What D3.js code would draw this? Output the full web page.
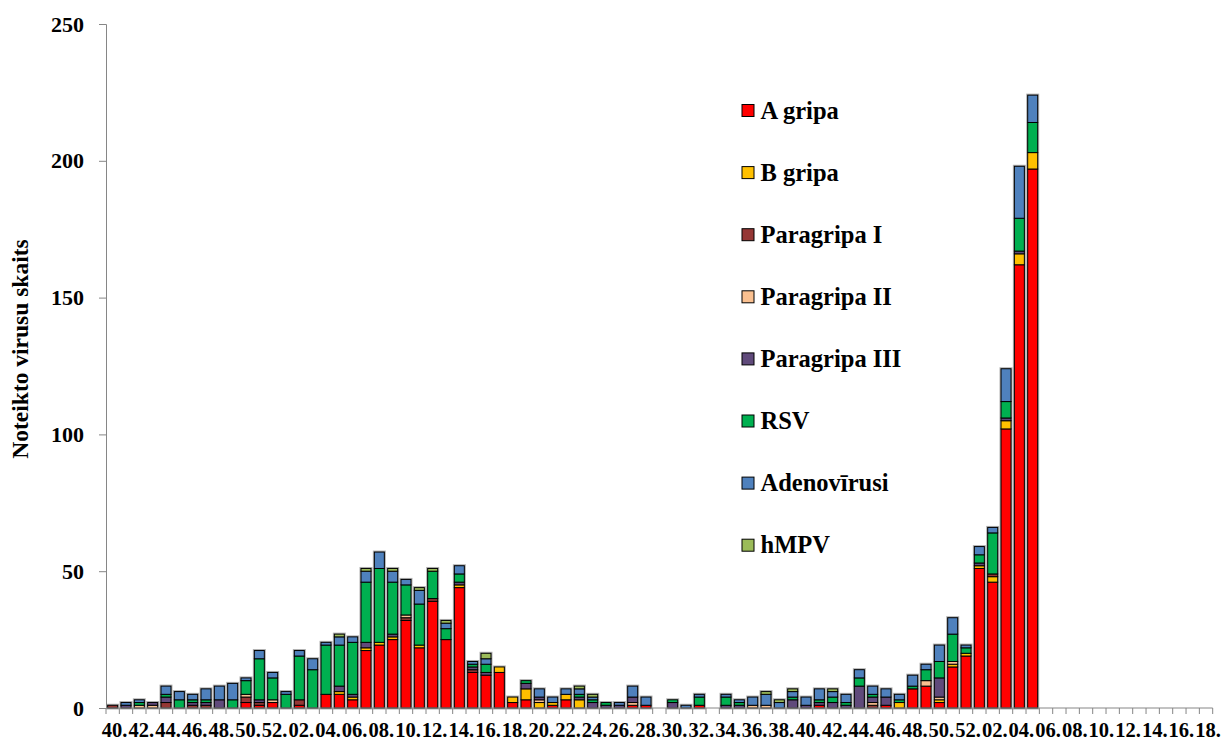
<html>
<head>
<meta charset="utf-8">
<title>Noteikto virusu skaits</title>
<script src="https://d3js.org/d3.v7.min.js"></script>
<style>
  body { margin: 0; background: #fff; }
  text { font-family: "Liberation Serif", "Times New Roman", serif; font-weight: bold; fill: #000; }
</style>
</head>
<body>
<script>
// nedelas (3 sezonas: 40-52, 1-52, 1-18)
const weeks = ["40","41","42","43","44","45","46","47","48","49","50","51","52",
  "01","02","03","04","05","06","07","08","09","10","11","12","13","14","15","16","17","18","19","20",
  "21","22","23","24","25","26","27","28","29","30","31","32","33","34","35","36","37","38","39","40",
  "41","42","43","44","45","46","47","48","49","50","51","52",
  "01","02","03","04","05","06","07","08","09","10","11","12","13","14","15","16","17","18"];

const seriesNames = ["A gripa", "B gripa", "Paragripa I", "Paragripa II", "Paragripa III", "RSV", "Adenovīrusi", "hMPV"];
const seriesColors = ["#ff0000", "#ffc000", "#953735", "#fac090", "#604a7b", "#00b050", "#4f81bd", "#9bbb59"];

const aGripa = [0,0,0,0,0,0,0,0,0,0,2,1,2,
  0,1,0,5,5,3,21,23,25,32,22,39,25,44,13,12,13,2,3,0,1,3,0,0,0,0,1,1,0,0,0,1,0,0,0,0,0,0,0,0,1,0,0,0,0,1,0,7,8,2,15,19,
  51,46,102,162,197,0,0,0,0,0,0,0,0,0,0,0,0,0];
const bGripa = [0,0,0,0,0,0,0,0,0,0,0,0,0,
  0,0,0,0,1,1,1,1,1,0,1,0,0,1,0,0,2,2,4,2,1,2,3,0,0,0,0,0,0,0,0,0,0,0,0,0,0,0,0,0,0,0,0,0,0,0,2,0,0,1,1,1,
  1,2,3,4,6,0,0,0,0,0,0,0,0,0,0,0,0,0];
const paraI = [1,0,0,0,2,0,1,1,0,0,2,1,0,
  0,2,0,0,0,0,0,0,0,1,0,1,0,0,1,0,0,0,0,0,0,0,0,0,0,0,0,0,0,0,0,0,0,0,0,0,0,0,0,0,0,0,0,0,1,0,0,0,0,0,0,0,
  0,1,0,0,0,0,0,0,0,0,0,0,0,0,0,0,0,0];
const paraII = [0,0,1,1,0,0,0,0,0,0,1,0,1,
  0,0,0,0,0,0,0,0,0,1,0,0,0,0,0,0,0,0,0,1,0,0,0,0,0,0,1,0,0,0,0,0,0,0,0,1,1,0,0,0,0,0,0,0,1,0,0,0,2,1,1,0,
  0,0,0,0,0,0,0,0,0,0,0,0,0,0,0,0,0,0];
const paraIII = [0,1,0,1,2,0,1,1,3,0,0,1,0,
  0,0,0,0,2,1,2,0,1,0,0,0,0,1,1,1,0,0,2,1,0,0,1,2,1,1,2,0,0,2,0,0,0,1,1,0,0,0,3,1,1,2,1,8,2,3,0,0,0,7,0,0,
  1,0,1,1,0,0,0,0,0,0,0,0,0,0,0,0,0,0];
const rsv = [0,0,1,0,1,3,1,1,0,3,5,15,8,
  5,16,14,18,15,19,22,27,19,11,15,10,4,3,1,3,0,0,1,0,0,0,1,1,1,0,0,0,0,1,0,3,0,3,1,0,0,0,1,0,1,2,1,3,1,0,1,1,4,6,10,2,
  3,15,6,12,11,0,0,0,0,0,0,0,0,0,0,0,0,0];
const adeno = [0,1,1,0,3,3,2,4,5,6,1,3,2,
  1,2,4,1,3,2,4,6,4,2,5,0,2,3,1,2,0,0,0,3,2,2,2,1,0,1,4,3,0,0,1,1,0,1,1,3,4,2,2,3,4,2,3,3,3,3,2,4,2,6,6,1,
  3,2,12,19,10,0,0,0,0,0,0,0,0,0,0,0,0,0];
const hmpv = [0,0,0,0,0,0,0,0,0,0,0,0,0,
  0,0,0,0,1,0,1,0,1,0,1,1,1,0,0,2,0,0,0,0,0,0,1,1,0,0,0,0,0,0,0,0,0,0,0,0,1,1,1,0,0,1,0,0,0,0,0,0,0,0,0,0,
  0,0,0,0,0,0,0,0,0,0,0,0,0,0];
const yTicks = [0, 50, 100, 150, 200, 250];

const seriesValues = [aGripa, bGripa, paraI, paraII, paraIII, rsv, adeno, hmpv];

// izmeri
const width = 1221, height = 740;
const plot = { left: 106, right: 1212.7, top: 24, bottom: 708 };

const svg = d3.select("body").append("svg")
  .attr("width", width)
  .attr("height", height);

// dati tabula prieks d3.stack
const rows = weeks.map((w, i) => {
  const r = { idx: i, week: w };
  seriesNames.forEach((s, k) => r[s] = seriesValues[k][i]);
  return r;
});

const x = d3.scaleBand()
  .domain(rows.map(d => d.idx))
  .range([plot.left, plot.right])
  .paddingInner(0.25)
  .paddingOuter(0.125);

const y = d3.scaleLinear()
  .domain([0, 250])
  .range([plot.bottom, plot.top]);

const color = d3.scaleOrdinal().domain(seriesNames).range(seriesColors);

const stacked = d3.stack().keys(seriesNames)(rows);
const totals = rows.map(d => d3.sum(seriesNames, s => d[s]));

// ena ap stabiem
svg.append("g")
  .selectAll("rect")
  .data(rows.filter((d, i) => totals[i] > 0))
  .join("rect")
    .attr("x", d => x(d.idx))
    .attr("y", d => y(totals[d.idx]))
    .attr("width", x.bandwidth())
    .attr("height", d => y(0) - y(totals[d.idx]))
    .attr("fill", "none")
    .attr("stroke", "#b0b0b0")
    .attr("stroke-width", 3);

// stabi
svg.append("g")
  .selectAll("g")
  .data(stacked)
  .join("g")
    .attr("fill", d => color(d.key))
  .selectAll("rect")
  .data(d => d.filter(p => p[1] - p[0] > 0))
  .join("rect")
    .attr("x", d => x(d.data.idx))
    .attr("y", d => y(d[1]))
    .attr("width", x.bandwidth())
    .attr("height", d => y(d[0]) - y(d[1]))
    .attr("stroke", "#000")
    .attr("stroke-width", 1);

// y ass
const yAxis = svg.append("g")
  .attr("transform", "translate(" + plot.left + ",0)")
  .call(d3.axisLeft(y).tickValues(yTicks).tickSize(7).tickPadding(15));
yAxis.select(".domain").attr("stroke", "#868686");
yAxis.selectAll(".tick line").attr("stroke", "#868686");
yAxis.selectAll(".tick text")
  .attr("font-size", 22)
  .attr("font-family", "Liberation Serif, Times New Roman, serif")
  .attr("font-weight", "bold")
  .attr("fill", "#000");

// x ass
const xAxis = svg.append("g")
  .attr("transform", "translate(0," + plot.bottom + ")");
xAxis.append("line")
  .attr("x1", plot.left).attr("x2", plot.right)
  .attr("stroke", "#868686");
const step = x.step();
xAxis.selectAll("line.tk")
  .data(d3.range(weeks.length + 1))
  .join("line")
    .attr("class", "tk")
    .attr("x1", i => plot.left + i * step)
    .attr("x2", i => plot.left + i * step)
    .attr("y1", 0).attr("y2", 6)
    .attr("stroke", "#868686");
xAxis.selectAll("text")
  .data(rows.filter(d => d.idx % 2 === 0))
  .join("text")
    .attr("x", d => x(d.idx) + x.bandwidth() / 2 + 2)
    .attr("y", 29)
    .attr("text-anchor", "middle")
    .attr("font-size", 20.5)
    .text(d => d.week + ".");

// y ass nosaukums
svg.append("text")
  .attr("transform", "translate(28,349) rotate(-90)")
  .attr("text-anchor", "middle")
  .attr("font-size", 23.5)
  .text("Noteikto virusu skaits");

// legenda
const legend = svg.append("g")
  .selectAll("g")
  .data(seriesNames)
  .join("g")
    .attr("transform", (d, i) => "translate(742," + (110.5 + i * 62.1) + ")");
legend.append("rect")
  .attr("x", 0).attr("y", -6)
  .attr("width", 12).attr("height", 12)
  .attr("fill", d => color(d))
  .attr("stroke", "#000")
  .attr("stroke-width", 1);
legend.append("text")
  .attr("x", 18.5)
  .attr("y", 8)
  .attr("font-size", 24.5)
  .text(d => d);
</script>
</body>
</html>
